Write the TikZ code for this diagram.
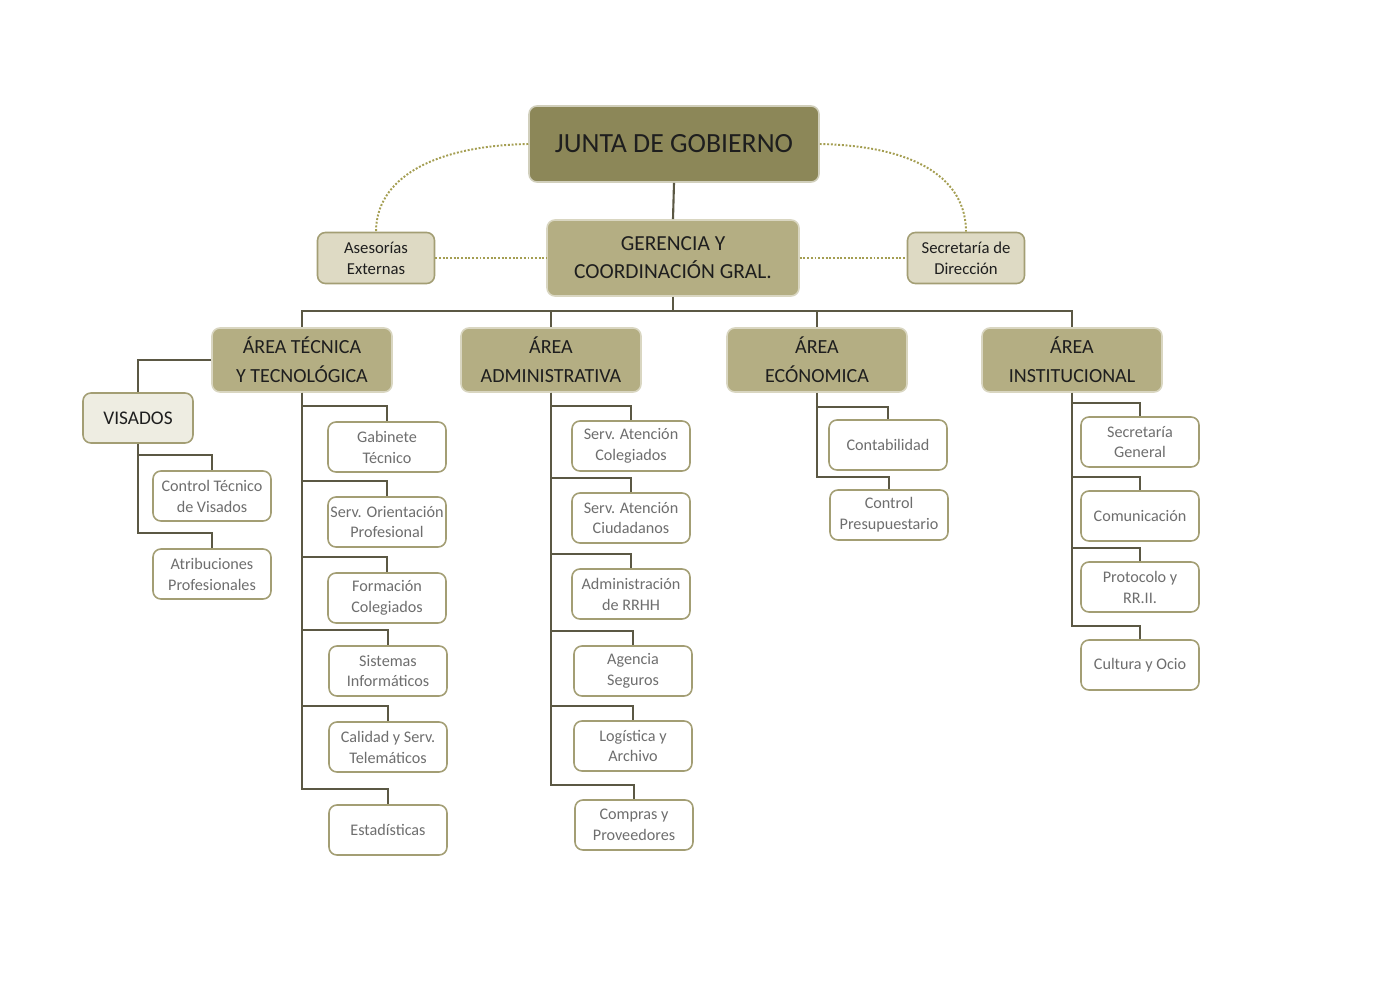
\documentclass[tikz,border=0pt]{standalone}
\usepackage{fontspec}
\setmainfont{Carlito}
\usetikzlibrary{positioning}
\definecolor{juntacol}{HTML}{8C8758}
\definecolor{areacol}{HTML}{B4AE83}
\definecolor{palecol}{HTML}{DEDAC4}
\definecolor{viscol}{HTML}{EEEDE2}
\definecolor{edgecol}{HTML}{A39E74}
\definecolor{linkcol}{HTML}{5B5844}
\definecolor{dotcol}{HTML}{A49E52}
\definecolor{txtcol}{HTML}{1E1E1E}
\definecolor{softtxt}{HTML}{6E6E6E}
\begin{document}
\begin{tikzpicture}[x=0.02cm, y=-0.02cm,
  box/.style={rectangle, rounded corners=4.5pt, align=center, inner sep=1pt, line width=0.9pt},
  toptier/.style={box, fill=juntacol, draw=juntacol!40, text=txtcol, minimum width=5.8cm, minimum height=1.52cm, font=\fontsize{15.8}{19}\selectfont},
  gerbox/.style={box, fill=areacol, draw=areacol!50, text=txtcol, minimum width=5.04cm, minimum height=1.52cm, font=\fontsize{12.2}{16}\selectfont},
  areabox/.style={box, fill=areacol, draw=areacol!50, text=txtcol, minimum width=3.6cm, minimum height=1.28cm, font=\fontsize{11.4}{16.3}\selectfont},
  advbox/.style={box, fill=palecol, draw=edgecol, text=txtcol, minimum width=2.34cm, minimum height=1.02cm, font=\fontsize{9.5}{12}\selectfont},
  visbox/.style={box, fill=viscol, draw=edgecol, text=txtcol, minimum width=2.2cm, minimum height=1cm, font=\fontsize{11}{14}\selectfont},
  unitbox/.style={box, fill=white, draw=edgecol, text=softtxt, minimum width=2.36cm, minimum height=1cm, font=\fontsize{9.2}{11.9}\selectfont},
  link/.style={draw=linkcol, line width=1.2pt},
  aside/.style={draw=dotcol, line width=1.1pt, densely dotted}]
  \useasboundingbox (0,0) rectangle (1400,990);

  \node[toptier] (junta) at (674,144) {JUNTA DE GOBIERNO};
  \node[gerbox] (ger) at (673,258) {GERENCIA Y\\COORDINACIÓN GRAL.};
  \node[advbox] (ases) at (376,258) {Asesorías\\Externas};
  \node[advbox] (secd) at (966,258) {Secretaría de\\Dirección};

  \node[areabox] (tec) at (302,360) {ÁREA TÉCNICA\\Y TECNOLÓGICA};
  \node[areabox] (adm) at (551,360) {ÁREA\\ADMINISTRATIVA};
  \node[areabox] (eco) at (817,360) {ÁREA\\ECÓNOMICA};
  \node[areabox] (ins) at (1072,360) {ÁREA\\INSTITUCIONAL};

  \node[visbox] (vis) at (138,418) {VISADOS};
  \node[unitbox] (ctv) at (212,496) {Control Técnico\\de Visados};
  \node[unitbox] (atr) at (212,574) {Atribuciones\\Profesionales};

  \node[unitbox] (gab) at (387,447) {Gabinete\\Técnico};
  \node[unitbox] (ori) at (387,522) {Serv. Orientación\\Profesional};
  \node[unitbox] (form) at (387,598) {Formación\\Colegiados};
  \node[unitbox] (sis) at (388,671) {Sistemas\\Informáticos};
  \node[unitbox] (cal) at (388,747) {Calidad y Serv.\\Telemáticos};
  \node[unitbox] (est) at (388,830) {Estadísticas};

  \node[unitbox] (sac) at (631,446) {Serv. Atención\\Colegiados};
  \node[unitbox] (scu) at (631,518) {Serv. Atención\\Ciudadanos};
  \node[unitbox] (rrh) at (631,594) {Administración\\de RRHH};
  \node[unitbox] (age) at (633,671) {Agencia\\Seguros};
  \node[unitbox] (logi) at (633,746) {Logística y\\Archivo};
  \node[unitbox] (comp) at (634,825) {Compras y\\Proveedores};

  \node[unitbox] (cont) at (888,445) {Contabilidad};
  \node[unitbox] (pres) at (889,515) {Control\\Presupuestario};

  \node[unitbox] (sgen) at (1140,442) {Secretaría\\General};
  \node[unitbox] (comu) at (1140,516) {Comunicación};
  \node[unitbox] (prot) at (1140,587) {Protocolo y\\RR.II.};
  \node[unitbox] (cult) at (1140,665) {Cultura y Ocio};

  \draw[link] (junta.south) -- (ger.north);
  \draw[aside] (ases.east) -- (ger.west);
  \draw[aside] (ger.east) -- (secd.west);
  \draw[aside] (junta.west) .. controls (430,146) and (376,180) .. (ases.north);
  \draw[aside] (junta.east) .. controls (918,146) and (966,180) .. (secd.north);

  \foreach \a in {tec,adm,eco,ins}
    \draw[link] (ger.south) |- ([yshift=0.32cm]\a.north) -- (\a.north);
  \draw[link] (tec.west) -| (vis.north);
  \foreach \c in {ctv,atr}
    \draw[link] (vis.south) |- ([yshift=0.3cm]\c.north) -- (\c.north);
  \foreach \c in {gab,ori,form,sis,cal,est}
    \draw[link] (tec.south) |- ([yshift=0.3cm]\c.north) -- (\c.north);
  \foreach \c in {sac,scu,rrh,age,logi,comp}
    \draw[link] (adm.south) |- ([yshift=0.28cm]\c.north) -- (\c.north);
  \foreach \c in {cont,pres}
    \draw[link] (eco.south) |- ([yshift=0.24cm]\c.north) -- (\c.north);
  \foreach \c in {sgen,comu,prot,cult}
    \draw[link] (ins.south) |- ([yshift=0.26cm]\c.north) -- (\c.north);
\end{tikzpicture}
\end{document}
